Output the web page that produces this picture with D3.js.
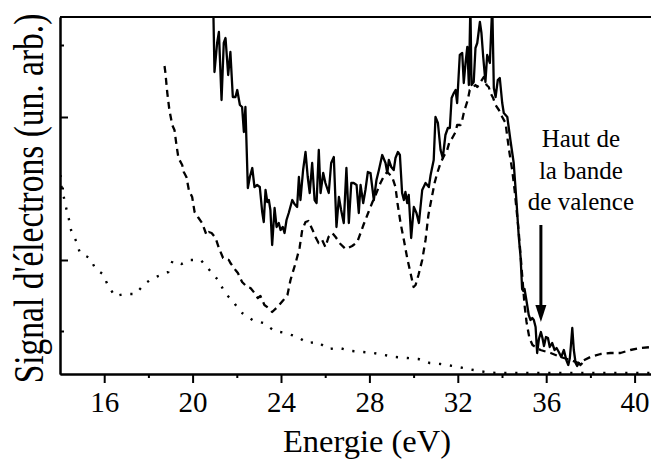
<!DOCTYPE html>
<html><head><meta charset="utf-8">
<script src="https://cdn.jsdelivr.net/npm/d3@7"></script>
<style>body{margin:0;background:#fff}</style>
</head><body>
<svg id="c" width="651" height="461" font-family="Times New Roman"></svg>
<script>
// ---- data ----
const xTicksMajor = [16, 20, 24, 28, 32, 36, 40];
const xTicksMinor = [18, 22, 26, 30, 34, 38];
const yTicksMajor = [114, 257];
const yTicksMinor = [43, 186, 329];
const xLabel = "Energie (eV)";
const yLabel = "Signal d'électrons (un. arb.)";
const annotationLines = ["Haut de", "la bande", "de valence"];
const arrowEnergy = 35.76, arrowStart = 149, arrowTip = 52;

const energyDotted = [14.02,14.07,14.17,14.28,14.40,14.51,14.75,14.90,15.35,15.61,15.94,16.16,16.48,16.92,17.42,17.82,18.22,18.59,18.90,19.09,19.50,19.86,20.37,20.80,21.19,21.46,21.82,22.17,22.71,23.21,23.71,24.20,24.75,25.20,25.65,26.15,26.65,27.19,27.69,28.19,28.68,29.18,29.72,30.22,30.72,31.22,31.76,32.26,32.71,33.25,33.80,35.0,37.0,39.0,40.76];
const signalDotted = [199,187,177,166,155,143,132,121,116,105,100,89,78,80,80,90,96,99,102,113,110,114,114,103,93,81,73,62,54,51,43,41,37,31,32,25,26,23,22,21,19,17,16,15,11,10,8,6,4,2,1,1,1,1,1];

const energyDashed = [18.73,18.77,18.85,18.95,19.08,19.18,19.27,19.36,19.53,19.60,19.72,19.83,19.98,20.09,20.24,20.43,20.63,20.73,20.86,21.04,21.19,21.38,21.64,21.71,21.94,22.05,22.24,22.47,22.62,22.80,22.95,23.07,23.25,23.43,23.60,23.84,24.11,24.29,24.43,24.66,24.84,24.96,25.11,25.24,25.43,25.56,25.70,25.86,26.01,26.15,26.32,26.47,26.69,26.92,27.22,27.45,27.60,27.73,27.96,28.14,28.28,28.50,28.68,28.81,29.03,29.18,29.27,29.41,29.56,29.71,29.86,30.00,30.09,30.22,30.39,30.54,30.67,30.80,30.95,31.07,31.22,31.35,31.52,31.62,31.75,31.90,31.97,32.12,32.20,32.27,32.35,32.45,32.54,32.65,32.80,32.88,33.03,33.18,33.30,33.40,33.48,33.60,33.71,33.86,34.01,34.16,34.24,34.34,34.46,34.57,34.66,34.75,34.84,34.93,35.02,35.11,35.24,35.38,35.52,35.74,36.20,36.65,37.10,37.46,38.00,38.46,38.91,39.36,39.81,40.27,40.77];
const signalDashed = [308,301,282,264,249,244,229,216,209,202,197,184,177,162,157,151,139,142,141,136,126,116,114,111,104,101,92,87,86,81,76,78,69,66,62,67,74,79,94,111,126,144,152,153,144,137,131,134,127,137,141,137,130,125,128,132,141,149,162,172,179,191,199,202,197,187,171,151,134,116,101,87,89,99,114,134,159,174,191,201,211,217,224,232,236,242,249,249,254,261,267,274,284,286,289,287,292,297,289,287,281,276,269,264,257,251,237,221,204,184,164,144,119,94,69,52,36,29,27,24,21,17,14,11,17,20,21,21,24,26,27];

const energySolid = [20.93,20.99,21.11,21.19,21.31,21.41,21.49,21.61,21.71,21.82,21.94,22.02,22.14,22.24,22.32,22.39,22.50,22.59,22.70,22.80,22.92,23.04,23.15,23.22,23.30,23.38,23.45,23.52,23.60,23.71,23.80,23.90,23.98,24.08,24.16,24.25,24.35,24.51,24.61,24.73,24.81,24.88,25.00,25.11,25.21,25.30,25.41,25.52,25.61,25.71,25.79,25.91,26.01,26.16,26.27,26.39,26.51,26.62,26.72,26.84,26.96,27.07,27.18,27.29,27.42,27.52,27.60,27.72,27.82,27.93,28.05,28.20,28.32,28.43,28.58,28.73,28.81,28.88,28.99,29.10,29.18,29.29,29.38,29.48,29.56,29.63,29.71,29.78,29.89,30.01,30.13,30.24,30.39,30.54,30.69,30.77,30.91,30.99,31.10,31.22,31.32,31.44,31.55,31.64,31.72,31.82,31.90,31.97,32.09,32.20,32.27,32.35,32.43,32.50,32.57,32.62,32.72,32.80,32.88,33.00,33.07,33.15,33.25,33.33,33.45,33.56,33.63,33.71,33.81,33.90,34.01,34.08,34.24,34.38,34.53,34.66,34.76,34.84,34.87,34.91,34.97,35.02,35.11,35.21,35.29,35.37,35.44,35.52,35.59,35.67,35.76,35.83,35.90,35.99,36.08,36.16,36.27,36.38,36.47,36.57,36.68,36.80,36.91,37.00,37.07,37.12,37.18,37.25,37.33,37.40,37.48,37.55,37.64];
const signalSolid = [374,302,331,342,274,331,336,299,322,277,277,284,269,267,242,267,186,197,206,187,189,187,162,152,184,172,174,164,129,166,147,151,144,147,141,154,161,174,170,167,197,174,204,222,197,181,211,174,171,224,181,201,191,181,211,217,147,177,164,151,206,151,191,191,189,161,189,171,184,202,201,174,194,204,219,211,201,214,207,204,216,222,219,181,174,182,171,179,136,167,161,151,184,191,187,199,214,257,251,224,216,239,246,246,276,281,284,271,319,321,291,311,327,289,369,289,292,326,331,352,341,317,292,319,311,369,286,277,294,296,271,261,257,234,211,171,137,117,104,85,83,85,73,59,54,56,54,47,21,35,42,36,28,37,36,27,31,24,26,22,17,24,14,9,16,29,46,24,11,8,11,9,11];

// ---- layout ----
const W = 651, H = 461;
const plotLeft = 60, plotRight = 651, plotTop = 17, plotBottom = 374;
const svg = d3.select("#c");
const serif = '"Times New Roman"';

const x = d3.scaleLinear().domain([14, 14 + (plotRight - plotLeft) / 22.1]).range([plotLeft, plotRight]);
const y = d3.scaleLinear().domain([0, plotBottom - plotTop]).range([plotBottom, plotTop]);

svg.append("rect").attr("width", W).attr("height", H).attr("fill", "#fff");

svg.append("defs").append("clipPath").attr("id", "clip")
  .append("rect").attr("x", plotLeft).attr("y", plotTop).attr("width", plotRight - plotLeft).attr("height", plotBottom - plotTop);

const plot = svg.append("g").attr("clip-path", "url(#clip)");
const line = d3.line().x(d => x(d[0])).y(d => y(d[1]));

function series(es, vs) { return es.map((e, i) => [e, vs[i]]); }

plot.append("path").datum(series(energyDotted, signalDotted))
  .attr("d", line).attr("fill", "none").attr("stroke", "#000")
  .attr("stroke-width", 2.4).attr("stroke-dasharray", "2.2,8.8");

plot.append("path").datum(series(energyDashed, signalDashed))
  .attr("d", line).attr("fill", "none").attr("stroke", "#000")
  .attr("stroke-width", 2.3).attr("stroke-dasharray", "7,5").attr("stroke-linejoin", "round");

plot.append("path").datum(series(energySolid, signalSolid))
  .attr("d", line).attr("fill", "none").attr("stroke", "#000")
  .attr("stroke-width", 2.3).attr("stroke-linejoin", "round");

// ---- axes ----
const xMajor = svg.append("g").attr("transform", `translate(0,${plotBottom})`)
  .call(d3.axisBottom(x).tickValues(xTicksMajor).tickSize(9).tickSizeOuter(0).tickPadding(8).tickFormat(d3.format("d")));
const xMinor = svg.append("g").attr("transform", `translate(0,${plotBottom})`)
  .call(d3.axisBottom(x).tickValues(xTicksMinor).tickSize(4).tickSizeOuter(0).tickFormat(""));
const yMajor = svg.append("g").attr("transform", `translate(${plotLeft},0)`)
  .call(d3.axisLeft(y).tickValues(yTicksMajor).tickSize(-8).tickSizeOuter(0).tickFormat(""));
const yMinor = svg.append("g").attr("transform", `translate(${plotLeft},0)`)
  .call(d3.axisLeft(y).tickValues(yTicksMinor).tickSize(-4).tickSizeOuter(0).tickFormat(""));

[xMajor, xMinor, yMajor, yMinor].forEach(g => {
  g.attr("font-family", "Times New Roman");
  g.selectAll("path.domain").attr("stroke", "#000").attr("stroke-width", 2);
  g.selectAll(".tick line").attr("stroke", "#000").attr("stroke-width", 2);
});
xMajor.selectAll(".tick text").attr("fill", "#000").attr("font-family", "Times New Roman")
  .style("font-family", serif).style("font-size", "29px");

// top frame line
svg.append("line").attr("x1", plotLeft).attr("x2", plotRight).attr("y1", plotTop).attr("y2", plotTop)
  .attr("stroke", "#000").attr("stroke-width", 2);

// axis titles
svg.append("text").attr("x", 367).attr("y", 452).attr("text-anchor", "middle")
  .attr("font-family", "Times New Roman").style("font-family", serif).style("font-size", "32.5px")
  .attr("fill", "#000").text(xLabel);

svg.append("text").attr("transform", "translate(43,198.5) scale(1.25,1) rotate(-90)")
  .attr("text-anchor", "middle").attr("font-family", "Times New Roman").style("font-family", serif)
  .style("font-size", "33.5px").attr("fill", "#000").text(yLabel);

// annotation
const ann = svg.append("text").attr("font-family", "Times New Roman").style("font-family", serif)
  .style("font-size", "25px").attr("fill", "#000").attr("text-anchor", "middle");
annotationLines.forEach((t, i) => {
  ann.append("tspan").attr("x", x(37.57)).attr("y", y(227 - i * 31.5)).text(t);
});

// arrow
const ax = x(arrowEnergy);
const headLen = 17, headHalf = 5.5;
svg.append("line").attr("x1", ax).attr("x2", ax).attr("y1", y(arrowStart)).attr("y2", y(arrowTip) - headLen + 1)
  .attr("stroke", "#000").attr("stroke-width", 3);
svg.append("path")
  .attr("d", `M${ax - headHalf},${y(arrowTip) - headLen} L${ax + headHalf},${y(arrowTip) - headLen} L${ax},${y(arrowTip)} Z`)
  .attr("fill", "#000");
</script>
</body></html>
